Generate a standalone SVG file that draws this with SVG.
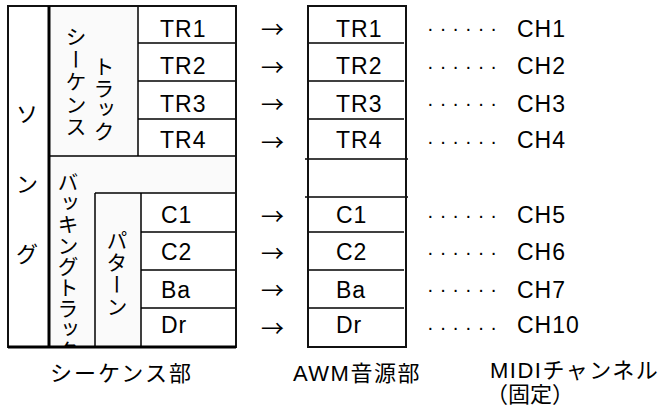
<svg xmlns="http://www.w3.org/2000/svg" width="665" height="412" viewBox="0 0 665 412">
<style>
.ln{stroke:#000;stroke-width:1.5;fill:none}
.bx{stroke:#111;stroke-width:2;fill:none}
.gray{fill:#fafafa;stroke:none}
.lat{font-family:"Liberation Sans","Noto Sans CJK JP",sans-serif;font-size:23px;letter-spacing:1px;fill:#000}
.jp{font-family:"Noto Sans CJK JP",sans-serif;font-size:22px;fill:#000}
.vt{font-family:"Noto Sans CJK JP",sans-serif;font-size:21px;fill:#000;writing-mode:vertical-rl}
.arr{font-family:"Noto Sans CJK JP",sans-serif;font-size:23px;fill:#000}
.dots{font-family:"Liberation Sans",sans-serif;font-size:20px;fill:#000}
.lbl{font-family:"Liberation Sans","Noto Sans CJK JP",sans-serif;font-size:22px;fill:#000}
</style>
<defs>
<clipPath id="clipBack"><rect x="49" y="156" width="46" height="191"/></clipPath>
</defs>
<rect width="665" height="412" fill="#fff"/>

<g id="song">
<rect x="8" y="6" width="41" height="342" fill="#fff"/>
<text class="jp" x="27" y="112" text-anchor="middle" dominant-baseline="central">ソ</text>
<text class="jp" x="27" y="182" text-anchor="middle" dominant-baseline="central">ン</text>
<text class="jp" x="27" y="252" text-anchor="middle" dominant-baseline="central">グ</text>
</g>

<g id="sequence-part">
<rect class="gray" x="49" y="6" width="89" height="150"/>
<rect class="gray" x="49" y="156" width="187" height="192"/>
<rect x="141" y="193" width="95" height="155" fill="#fff"/>
<text class="vt" x="76" y="26" letter-spacing="1.5">シーケンス</text>
<text class="vt" x="104" y="56" letter-spacing="0.5">トラック</text>
<g clip-path="url(#clipBack)">
<text class="vt" x="68" y="172" font-size="19.8" letter-spacing="0">バッキングトラック</text>
</g>
<text class="vt" x="117" y="230" letter-spacing="1">パターン</text>
<line class="ln" x1="138" y1="6" x2="138" y2="156"/>
<line class="ln" x1="138" y1="43" x2="236" y2="43"/>
<line class="ln" x1="138" y1="81" x2="236" y2="81"/>
<line class="ln" x1="138" y1="119" x2="236" y2="119"/>
<line class="ln" x1="49" y1="156" x2="236" y2="156"/>
<line class="ln" x1="95" y1="193" x2="236" y2="193"/>
<line class="ln" x1="95" y1="193" x2="95" y2="348"/>
<line class="ln" x1="141" y1="193" x2="141" y2="348"/>
<line class="ln" x1="141" y1="232" x2="236" y2="232"/>
<line class="ln" x1="141" y1="270" x2="236" y2="270"/>
<line class="ln" x1="141" y1="308" x2="236" y2="308"/>
<rect class="bx" x="8" y="6" width="228" height="341"/>
<line x1="8" y1="347" x2="236" y2="347" stroke="#000" stroke-width="3"/>
<line x1="49" y1="6" x2="49" y2="348" stroke="#000" stroke-width="3"/>
<text class="lat" x="160" y="37">TR1</text>
<text class="lat" x="160" y="74">TR2</text>
<text class="lat" x="160" y="112">TR3</text>
<text class="lat" x="160" y="148">TR4</text>
<text class="lat" x="161" y="223">C1</text>
<text class="lat" x="161" y="260">C2</text>
<text class="lat" x="161" y="298">Ba</text>
<text class="lat" x="161" y="333">Dr</text>
</g>

<g id="awm-part">
<rect x="308" y="6" width="98" height="341" fill="#fff"/>
<line class="ln" x1="308" y1="43" x2="404" y2="43"/>
<line class="ln" x1="308" y1="81" x2="404" y2="81"/>
<line class="ln" x1="308" y1="119" x2="404" y2="119"/>
<line class="ln" x1="305" y1="159" x2="408" y2="159"/>
<line class="ln" x1="305" y1="197" x2="408" y2="197"/>
<line class="ln" x1="308" y1="232" x2="404" y2="232"/>
<line class="ln" x1="308" y1="270" x2="404" y2="270"/>
<line class="ln" x1="308" y1="308" x2="404" y2="308"/>
<rect class="bx" x="308" y="6" width="98" height="341"/>
<text class="lat" x="336" y="37">TR1</text>
<text class="lat" x="336" y="74">TR2</text>
<text class="lat" x="336" y="112">TR3</text>
<text class="lat" x="336" y="148">TR4</text>
<text class="lat" x="336" y="223">C1</text>
<text class="lat" x="336" y="260">C2</text>
<text class="lat" x="336" y="298">Ba</text>
<text class="lat" x="336" y="333">Dr</text>
</g>

<g id="channels">
<text class="lat" x="517" y="37" letter-spacing="0">CH1</text>
<text class="lat" x="517" y="74" letter-spacing="0">CH2</text>
<text class="lat" x="517" y="112" letter-spacing="0">CH3</text>
<text class="lat" x="517" y="148" letter-spacing="0">CH4</text>
<text class="lat" x="517" y="223" letter-spacing="0">CH5</text>
<text class="lat" x="517" y="260" letter-spacing="0">CH6</text>
<text class="lat" x="517" y="298" letter-spacing="0">CH7</text>
<text class="lat" x="517" y="333" letter-spacing="0">CH10</text>
</g>

<g id="connectors">
<text class="arr" x="261" y="28" dominant-baseline="central">→</text>
<text class="arr" x="261" y="66" dominant-baseline="central">→</text>
<text class="arr" x="261" y="103" dominant-baseline="central">→</text>
<text class="arr" x="261" y="141" dominant-baseline="central">→</text>
<text class="arr" x="261" y="215" dominant-baseline="central">→</text>
<text class="arr" x="261" y="252" dominant-baseline="central">→</text>
<text class="arr" x="261" y="289" dominant-baseline="central">→</text>
<text class="arr" x="261" y="327" dominant-baseline="central">→</text>
<text class="dots" x="427" y="35" textLength="70" lengthAdjust="spacing">······</text>
<text class="dots" x="427" y="73" textLength="70" lengthAdjust="spacing">······</text>
<text class="dots" x="427" y="110" textLength="70" lengthAdjust="spacing">······</text>
<text class="dots" x="427" y="148" textLength="70" lengthAdjust="spacing">······</text>
<text class="dots" x="427" y="222" textLength="70" lengthAdjust="spacing">······</text>
<text class="dots" x="427" y="259" textLength="70" lengthAdjust="spacing">······</text>
<text class="dots" x="427" y="296" textLength="70" lengthAdjust="spacing">······</text>
<text class="dots" x="427" y="334" textLength="70" lengthAdjust="spacing">······</text>
</g>

<g id="labels">
<text class="lbl" x="50" y="381" letter-spacing="2">シーケンス部</text>
<text class="lbl" x="293" y="381" letter-spacing="1.5">AWM音源部</text>
<text class="lbl" x="490" y="378" letter-spacing="1.5">MIDIチャンネル</text>
<text class="lbl" x="486" y="402" font-size="21">（固定）</text>
</g>
</svg>
